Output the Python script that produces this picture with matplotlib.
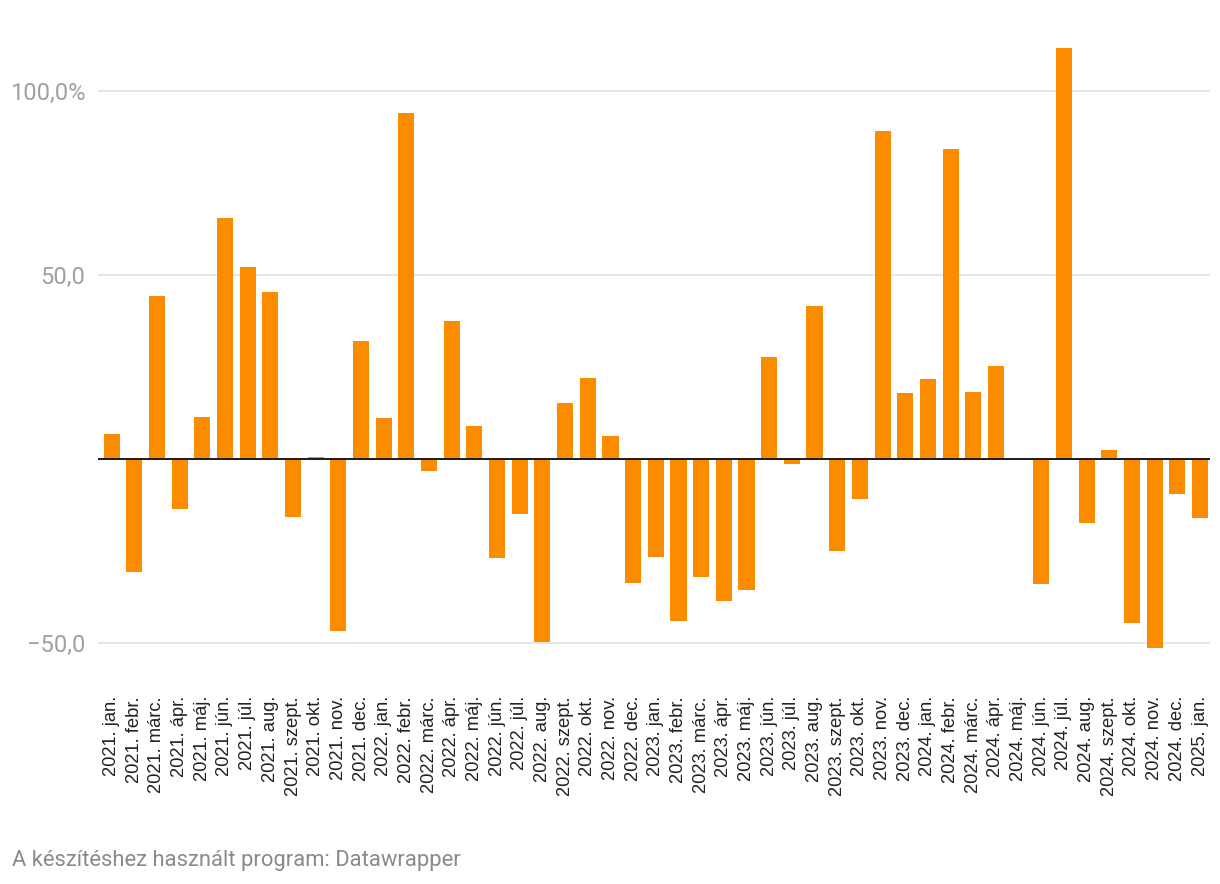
import matplotlib.pyplot as plt

# havi változás (%), 2021. jan. - 2025. jan.
years = [2021] * 12 + [2022] * 12 + [2023] * 12 + [2024] * 12 + [2025]
month_names = ["jan.", "febr.", "márc.", "ápr.", "máj.", "jún.",
               "júl.", "aug.", "szept.", "okt.", "nov.", "dec."]
labels = [f"{y}. {month_names[i % 12]}" for i, y in enumerate(years)]

values = [
    6.8, -30.7, 44.3, -13.6, 11.4, 65.5, 52.2, 45.4, -15.8, 0.5, -46.7, 32.1,
    11.1, 94.0, -3.3, 37.5, 9.0, -26.9, -14.9, -49.7, 15.2, 22.0, 6.3, -33.7,
    -26.6, -44.0, -32.1, -38.6, -35.6, 27.7, -1.4, 41.6, -25.0, -10.9, 89.1, 17.9,
    21.7, 84.2, 18.2, 25.3, 0.0, -34.0, 111.7, -17.4, 2.6, -44.6, -51.4, -9.4,
    -16.0,
]

yticks = [-50, 50, 100]
ytick_labels = ["\u221250,0", "50,0", "100,0%"]

fig = plt.figure(figsize=(12.2, 8.84), dpi=100)
ax = fig.add_axes([98 / 1220, 224 / 884, 1112 / 1220, 620 / 884])

x = list(range(len(values)))
ax.bar(x, values, width=0.71, color="#fb8c00", zorder=2)
ax.axhline(0, color="#1a1a1a", linewidth=1.4, zorder=3)

ax.set_xlim(-0.6, 48.44)
ax.set_ylim(-54.6, 113.9)

ax.set_yticks(yticks)
ax.set_yticklabels(ytick_labels, family="Roboto", fontsize=17, color="#a0a0a0")
ax.yaxis.grid(True, color="#e3e3e3", linewidth=1.3, zorder=0)
ax.set_axisbelow(True)

ax.set_xticks(x)
ax.set_xticklabels(labels, rotation=90, family="Liberation Sans", fontsize=13.2,
                   color="#222222", va="top", ha="center")

ax.tick_params(axis="y", length=0, pad=9)
ax.tick_params(axis="x", length=0, pad=26)
for s in ax.spines.values():
    s.set_visible(False)

fig.text(12 / 1220, 18 / 884, "A készítéshez használt program: Datawrapper",
         family="Roboto", fontsize=15.8, color="#8a8a8a", va="baseline")

fig.savefig("out.png", dpi=100)
